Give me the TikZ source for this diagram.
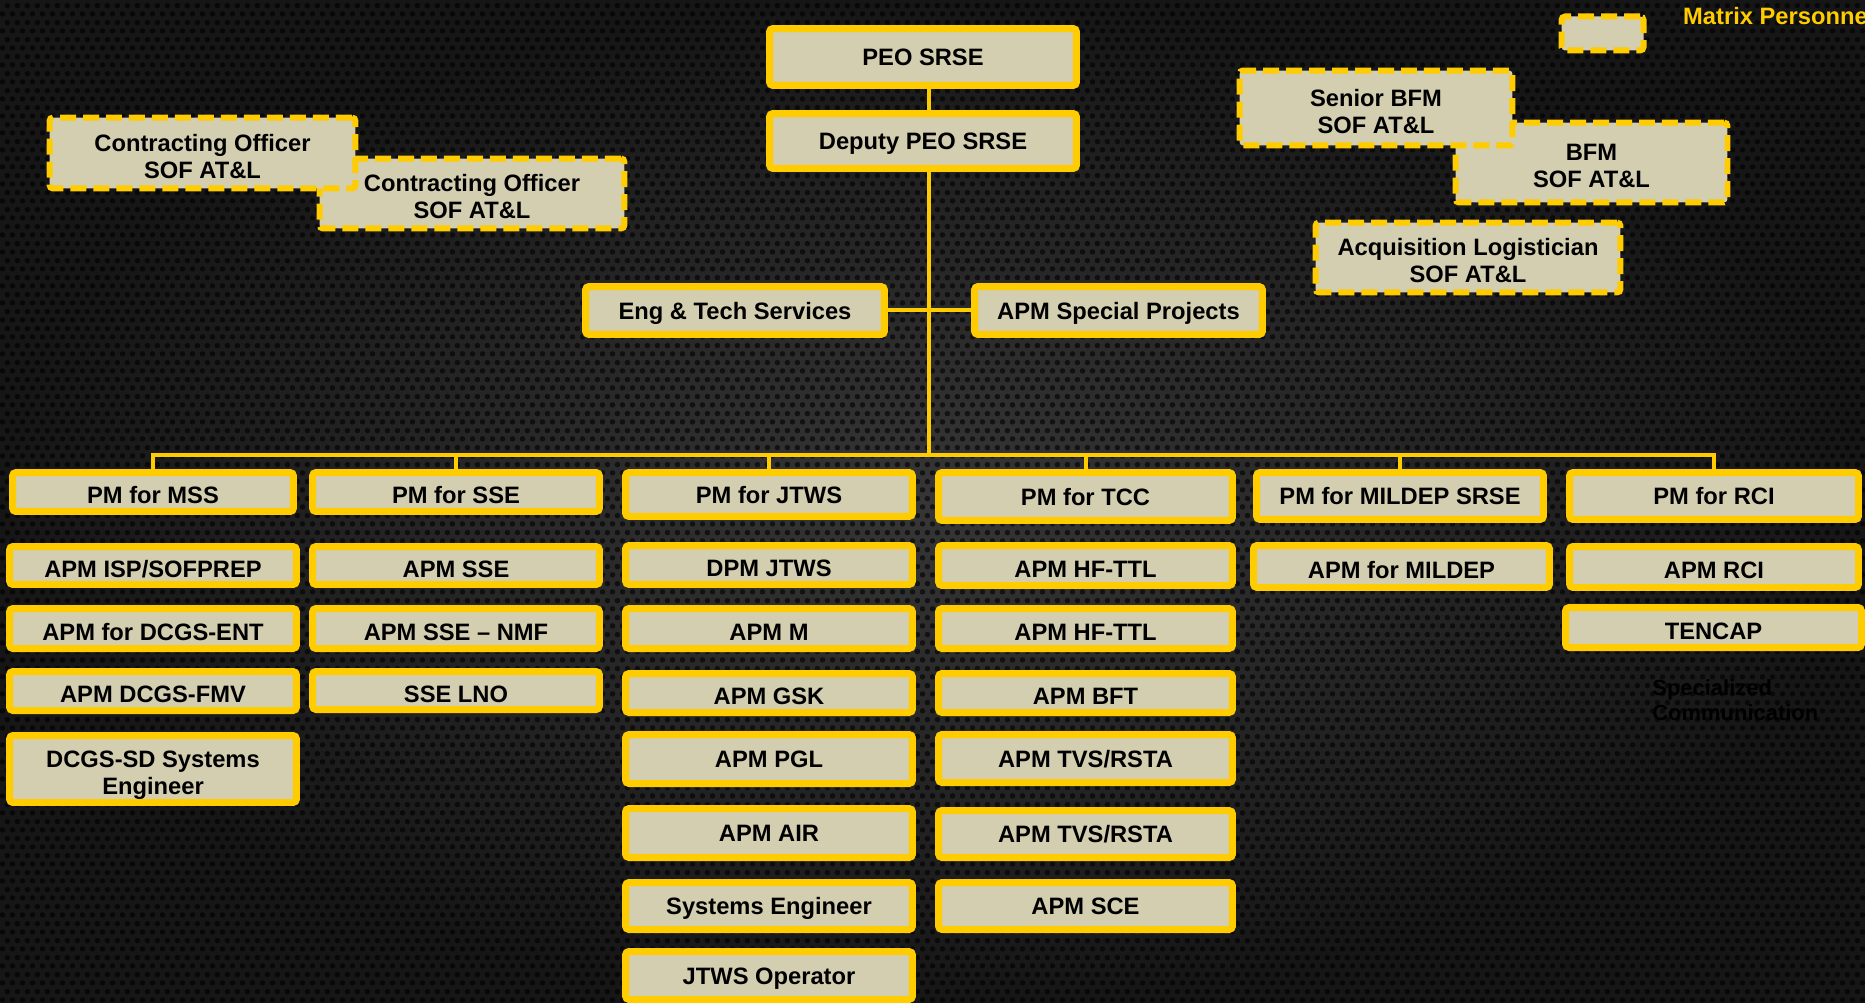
\documentclass[tikz,border=0pt]{standalone}
\usepackage{fontspec}
\setmainfont{Liberation Sans}
\usetikzlibrary{patterns}

\definecolor{gold}{HTML}{FFCC00}
\definecolor{sand}{HTML}{D3CEB0}
\definecolor{bgmid}{HTML}{363636}
\definecolor{bgedge}{HTML}{161616}

\pgfdeclarepatternformonly{hexholes}{\pgfpointorigin}{\pgfpoint{5.67pt}{9.82pt}}{\pgfpoint{5.67pt}{9.82pt}}{%
  \pgfpathcircle{\pgfpoint{1.42pt}{2.45pt}}{1.6pt}%
  \pgfpathcircle{\pgfpoint{4.25pt}{7.36pt}}{1.6pt}%
  \pgfusepath{fill}}

\begin{document}
\begin{tikzpicture}[x=0.02cm, y=-0.02cm,
    unit/.style={draw=gold, fill=sand, line width=0.14cm, rounded corners=2pt,
      inner sep=0pt, minimum width=5.74cm, minimum height=0.78cm, align=center,
      text height=1em, text depth=0pt,
      font=\bfseries\fontsize{13.5}{15.5}\selectfont},
    low/.style={text height=1.35em},
    twoline/.style={text height=29pt, text depth=0pt},
    mtxbox/.style={unit, twoline, line width=0.12cm, dash pattern=on 0.32cm off 0.14cm},
    link/.style={draw=gold, line width=0.08cm}]
        \useasboundingbox (0,0) rectangle (1865,1003);
        \shade [inner color=bgmid, outer color=bgedge] (0,0) rectangle (1865,1003);
        \fill [pattern=hexholes, pattern color=black, fill opacity=0.6] (0,0) rectangle (1865,1003);

        \node [unit, minimum width=6.14cm, minimum height=1.14cm] (peo) at (923,57) {PEO SRSE};
        \node [unit, minimum width=6.14cm, minimum height=1.10cm] (dpeo) at (923,141) {Deputy PEO SRSE};
        \node [unit, minimum width=5.98cm, minimum height=0.96cm] (eng) at (735,310.5) {Eng \& Tech Services};
        \node [unit, minimum width=5.76cm, minimum height=0.96cm] (spec) at (1118.5,310.5) {APM Special Projects};

        \node [mtxbox, minimum width=6.10cm, minimum height=1.40cm] (co2) at (472,193.5) {Contracting Officer\\SOF AT\&L};
        \node [mtxbox, minimum width=6.12cm, minimum height=1.42cm] (co1) at (202.5,153) {Contracting Officer\\SOF AT\&L};
        \node [mtxbox, minimum width=5.44cm, minimum height=1.60cm] (bfm) at (1591.5,162.5) {BFM\\SOF AT\&L};
        \node [mtxbox, minimum width=5.46cm, minimum height=1.50cm] (sbfm) at (1376,108) {Senior BFM\\SOF AT\&L};
        \node [mtxbox, minimum width=6.10cm, minimum height=1.40cm] (alog) at (1468,257.5) {Acquisition Logistician\\SOF AT\&L};
        \node [mtxbox, text height=0pt, minimum width=1.64cm, minimum height=0.68cm] (legend) at (1602.5,33.5) {};
        \node [anchor=base west, text=gold, font=\bfseries\fontsize{13.5}{15.5}\selectfont] (legendtext) at (1677,25) {Matrix Personnel};

        \node [unit, low, minimum width=5.62cm] (mss) at (153,492) {PM for MSS};
        \node [unit, low] (sse) at (456,492) {PM for SSE};
        \node [unit, minimum height=0.88cm] (jtws) at (769,494.5) {PM for JTWS};
        \node [unit, minimum width=5.88cm, minimum height=0.96cm] (tcc) at (1085.5,496.5) {PM for TCC};
        \node [unit, minimum height=0.94cm] (mildep) at (1400,496) {PM for MILDEP SRSE};
        \node [unit, minimum width=5.78cm, minimum height=0.94cm] (rci) at (1714,496) {PM for RCI};

        \node [unit, low, minimum height=0.76cm] (mss1) at (153,565.5) {APM ISP/SOFPREP};
        \node [unit, low, minimum height=0.80cm] (mss2) at (153,628.5) {APM for DCGS-ENT};
        \node [unit, low] (mss3) at (153,691) {APM DCGS-FMV};
        \node [unit, twoline, minimum height=1.34cm] (mss4) at (153,769) {DCGS-SD Systems\\Engineer};

        \node [unit, low, minimum height=0.76cm] (sse1) at (456,565.5) {APM SSE};
        \node [unit, low, minimum height=0.80cm] (sse2) at (456,628.5) {APM SSE – NMF};
        \node [unit, low, minimum height=0.76cm] (sse3) at (456,690.5) {SSE LNO};

        \node [unit, low] (jtws1) at (769,565) {DPM JTWS};
        \node [unit, low, minimum height=0.80cm] (jtws2) at (769,628.5) {APM M};
        \node [unit, low] (jtws3) at (769,693) {APM GSK};
        \node [unit, minimum height=0.98cm] (jtws4) at (769,759) {APM PGL};
        \node [unit, minimum height=0.98cm] (jtws5) at (769,833) {APM AIR};
        \node [unit, minimum height=0.94cm] (jtws6) at (769,906) {Systems Engineer};
        \node [unit, minimum height=0.96cm] (jtws7) at (769,975.5) {JTWS Operator};

        \node [unit, low, minimum width=5.88cm, minimum height=0.80cm] (tcc1) at (1085.5,565.5) {APM HF-TTL};
        \node [unit, low, minimum width=5.88cm, minimum height=0.80cm] (tcc2) at (1085.5,628.5) {APM HF-TTL};
        \node [unit, low, minimum width=5.88cm] (tcc3) at (1085.5,693) {APM BFT};
        \node [unit, minimum width=5.88cm, minimum height=0.96cm] (tcc4) at (1085.5,758.5) {APM TVS/RSTA};
        \node [unit, minimum width=5.88cm, minimum height=0.94cm] (tcc5) at (1085.5,834) {APM TVS/RSTA};
        \node [unit, minimum width=5.88cm, minimum height=0.94cm] (tcc6) at (1085.5,906) {APM SCE};

        \node [unit, low, minimum width=5.92cm, minimum height=0.84cm] (mildep1) at (1401.5,566.5) {APM for MILDEP};

        \node [unit, low, minimum width=5.78cm, minimum height=0.82cm] (rci1) at (1714,567) {APM RCI};
        \node [unit, low, minimum width=5.92cm, minimum height=0.80cm] (rci2) at (1713.5,627.5) {TENCAP};
        \node [anchor=north west, align=left, inner sep=0pt, text=black, font=\bfseries\fontsize{12.5}{14.5}\selectfont] (comm) at (1652,679) {Specialized\\Communication};

        \coordinate (bus) at (929,455);
        \draw [link] (peo.south -| bus) -- (dpeo.north -| bus);
        \draw [link] (dpeo.south -| bus) -- (bus);
        \draw [link] (eng.east) -- (spec.west);

        \draw [link] (mss.north) -- (mss.north |- bus) -- (rci.north |- bus) -- (rci.north);
        \draw [link] (sse.north |- bus) -- (sse.north);
        \draw [link] (jtws.north |- bus) -- (jtws.north);
        \draw [link] (tcc.north |- bus) -- (tcc.north);
        \draw [link] (mildep.north |- bus) -- (mildep.north);

    \end{tikzpicture}
\end{document}
